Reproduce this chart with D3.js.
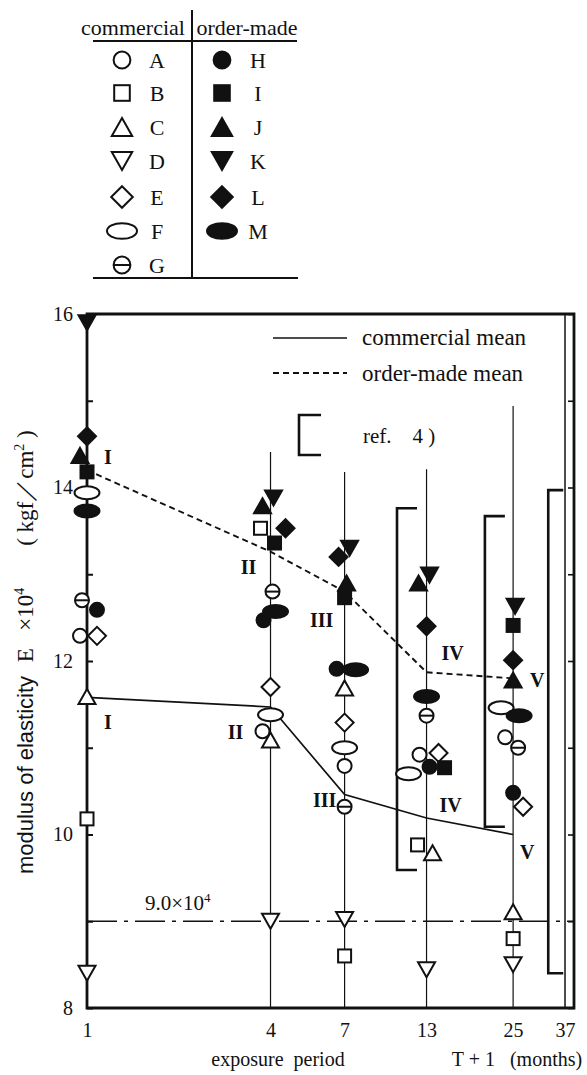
<!DOCTYPE html>
<html>
<head>
<meta charset="utf-8">
<script src="https://cdn.jsdelivr.net/npm/d3@7/dist/d3.min.js"></script>
<style>
  html, body { margin: 0; padding: 0; background: #fff; }
  svg { display: block; }
  text { font-family: "Liberation Serif", "Times New Roman", serif; fill: #111; }
</style>
</head>
<body>
<svg id="chart" width="587" height="1075"></svg>
<script>
// Exposure periods (T + 1, months)
const periods = [1, 4, 7, 13, 25];
const axisPeriods = [1, 4, 7, 13, 25, 37];

// Modulus of elasticity (x10^4 kgf/cm2) per specimen group
// commercial
const seriesA = [12.29, 11.19, 10.79, 10.92, 11.12];
const seriesB = [10.18, 13.53, 8.60, 9.88, 8.80];
const seriesC = [11.59, 11.09, 11.69, 9.79, 9.11];
const seriesD = [8.40, 9.00, 9.02, 8.44, 8.50];
const seriesE = [12.29, 11.70, 11.29, 10.94, 10.32];
const seriesF = [13.94, 11.38, 11.00, 10.70, 11.46];
const seriesG = [12.70, 12.80, 10.32, 11.37, 11.00];
// order-made
const seriesH = [12.59, 12.47, 11.91, 10.78, 10.48];
const seriesI = [14.18, 13.36, 12.73, 10.77, 12.41];
const seriesJ = [14.37, 13.79, 12.90, 12.90, 11.78];
const seriesK = [15.90, 13.88, 13.30, 12.99, 12.63];
const seriesL = [14.59, 13.53, 13.20, 12.40, 12.01];
const seriesM = [13.73, 12.57, 11.90, 11.59, 11.37];

// Group means
const commercialMean = [11.58, 11.47, 10.46, 10.19, 10.00];
const orderMadeMean = [14.20, 13.26, 12.80, 11.87, 11.80];
const meanLabels = ["I", "II", "III", "IV", "V"];

// Ranges from ref. 4)
const refPeriod = [10.4, 20.2, 32.6];
const refLow = [9.59, 10.09, 8.40];
const refHigh = [13.76, 13.67, 13.97];

// Design value
const designValue = 9.0;

// Y ticks
const yMajorTicks = [8, 10, 12, 14, 16];
const yAllTicks = [8, 9, 10, 11, 12, 13, 14, 15, 16];

// ---------- layout ----------
const svg = d3.select("#chart");
const X0 = 87, X1 = 574, Y0 = 314, Y1 = 1008;
const x = d3.scaleLog().domain([1, 39.6]).range([X0, X1]);
const y = d3.scaleLinear().domain([8, 16]).range([Y1, Y0]);

const legendSymbols = [
  { key: "A", shape: "circle", fill: false, data: seriesA },
  { key: "B", shape: "square", fill: false, data: seriesB },
  { key: "C", shape: "triUp", fill: false, data: seriesC },
  { key: "D", shape: "triDown", fill: false, data: seriesD },
  { key: "E", shape: "diamond", fill: false, data: seriesE },
  { key: "F", shape: "ellipse", fill: false, data: seriesF },
  { key: "G", shape: "theta", fill: false, data: seriesG },
  { key: "H", shape: "circle", fill: true, data: seriesH },
  { key: "I", shape: "square", fill: true, data: seriesI },
  { key: "J", shape: "triUp", fill: true, data: seriesJ },
  { key: "K", shape: "triDown", fill: true, data: seriesK },
  { key: "L", shape: "diamond", fill: true, data: seriesL },
  { key: "M", shape: "ellipse", fill: true, data: seriesM }
];

// draws one marker centred at (cx, cy); s scales the symbol
function marker(g, shape, filled, cx, cy, s) {
  const fill = filled ? "#111" : "#fff";
  const sw = 2;
  const gg = g.append("g").attr("transform", `translate(${cx},${cy})`);
  if (shape === "circle") {
    gg.append("circle").attr("r", 7 * s).attr("fill", fill).attr("stroke", "#111").attr("stroke-width", sw);
  } else if (shape === "square") {
    const h = 6.5 * s;
    gg.append("rect").attr("x", -h).attr("y", -h).attr("width", 2 * h).attr("height", 2 * h)
      .attr("fill", fill).attr("stroke", "#111").attr("stroke-width", sw);
  } else if (shape === "triUp" || shape === "triDown") {
    const w = 8.5 * s, h = 7.5 * s, d = shape === "triUp" ? 1 : -1;
    gg.append("path").attr("d", `M0,${-d * h}L${w},${d * h}L${-w},${d * h}Z`)
      .attr("fill", fill).attr("stroke", "#111").attr("stroke-width", sw).attr("stroke-linejoin", "miter");
  } else if (shape === "diamond") {
    const r = 9 * s;
    gg.append("path").attr("d", `M0,${-r}L${r},0L0,${r}L${-r},0Z`)
      .attr("fill", fill).attr("stroke", "#111").attr("stroke-width", sw);
  } else if (shape === "ellipse") {
    gg.append("ellipse").attr("rx", 12.5 * s).attr("ry", 6.5 * s)
      .attr("fill", fill).attr("stroke", "#111").attr("stroke-width", sw);
  } else if (shape === "theta") {
    const r = 7 * s;
    gg.append("circle").attr("r", r).attr("fill", fill).attr("stroke", "#111").attr("stroke-width", sw);
    gg.append("line").attr("x1", -r).attr("x2", r).attr("stroke", "#111").attr("stroke-width", sw);
  }
}

// ---------- symbol key table ----------
const key = svg.append("g");
key.append("text").attr("x", 133).attr("y", 35).attr("text-anchor", "middle")
  .style("font-size", "22px").text("commercial");
key.append("text").attr("x", 247).attr("y", 35).attr("text-anchor", "middle")
  .style("font-size", "22px").text("order-made");
key.append("line").attr("x1", 93).attr("x2", 297).attr("y1", 41).attr("y2", 41)
  .attr("stroke", "#111").attr("stroke-width", 2);
key.append("line").attr("x1", 93).attr("x2", 298).attr("y1", 278).attr("y2", 278)
  .attr("stroke", "#111").attr("stroke-width", 2);
key.append("line").attr("x1", 192).attr("x2", 192).attr("y1", 10).attr("y2", 279)
  .attr("stroke", "#111").attr("stroke-width", 2);

const rowY = [60, 93, 127, 161, 197, 231, 265];
legendSymbols.forEach((d, i) => {
  const col = i < 7 ? 0 : 1;
  const row = col === 0 ? i : i - 7;
  const cy = rowY[row];
  const sx = col === 0 ? 122 : 222;
  const tx = col === 0 ? 157 : 258;
  marker(key, d.shape, d.fill, sx, cy, 1.2);
  key.append("text").attr("x", tx).attr("y", cy + 8).attr("text-anchor", "middle")
    .style("font-size", "22px").text(d.key);
});

// ---------- plot ----------
const plot = svg.append("g");

// design value line (dash-dot)
plot.append("line").attr("x1", X0).attr("x2", X1)
  .attr("y1", y(designValue)).attr("y2", y(designValue))
  .attr("stroke", "#111").attr("stroke-width", 1.3).attr("stroke-dasharray", "30,7,4,7");
plot.append("text").attr("x", 145).attr("y", y(designValue) - 11).style("font-size", "21px")
  .html("9.0×10<tspan dy='-8' font-size='13px'>4</tspan>");

// vertical guides at each exposure period
const guideTop = [14.41, 14.18, 14.21, 14.94];
periods.slice(1).forEach((p, i) => {
  plot.append("line").attr("x1", x(p)).attr("x2", x(p)).attr("y1", y(guideTop[i])).attr("y2", Y1)
    .attr("stroke", "#111").attr("stroke-width", 1.2);
});
plot.append("line").attr("x1", x(37)).attr("x2", x(37)).attr("y1", Y0).attr("y2", Y1)
  .attr("stroke", "#111").attr("stroke-width", 1.5);

// ref. 4) brackets
refPeriod.forEach((p, i) => {
  const bx = x(p);
  const arm = i === 2 ? 15 : 20;
  plot.append("path")
    .attr("d", `M${bx + arm},${y(refHigh[i])}H${bx}V${y(refLow[i])}H${bx + arm}`)
    .attr("fill", "none").attr("stroke", "#111").attr("stroke-width", 2.6);
});

// mean lines
const line = d3.line().x((d, i) => x(periods[i])).y(d => y(d));
plot.append("path").datum(commercialMean).attr("d", line)
  .attr("fill", "none").attr("stroke", "#111").attr("stroke-width", 1.7);
plot.append("path").datum(orderMadeMean).attr("d", line)
  .attr("fill", "none").attr("stroke", "#111").attr("stroke-width", 1.9).attr("stroke-dasharray", "6,4");

// Roman numeral labels beside the mean vertices (pixel offsets)
const solidLabelOff = [[21, 25], [-35, 25], [-20, 5], [24, -13], [14, 17]];
const dashLabelOff = [[21, -13], [-22, 15], [-23, 28], [26, -19], [24, 2]];
meanLabels.forEach((t, i) => {
  plot.append("text").attr("x", x(periods[i]) + solidLabelOff[i][0]).attr("y", y(commercialMean[i]) + solidLabelOff[i][1] + 7)
    .attr("text-anchor", "middle").style("font-size", "20px").style("font-weight", "bold").text(t);
  plot.append("text").attr("x", x(periods[i]) + dashLabelOff[i][0]).attr("y", y(orderMadeMean[i]) + dashLabelOff[i][1] + 7)
    .attr("text-anchor", "middle").style("font-size", "20px").style("font-weight", "bold").text(t);
});

// axes
const left = plot.append("g").attr("transform", `translate(${X0},0)`)
  .call(d3.axisLeft(y).tickValues(yAllTicks).tickSizeInner(-6).tickSizeOuter(0).tickPadding(14)
    .tickFormat(d => yMajorTicks.includes(d) ? d : ""));
left.select(".domain").remove();
left.selectAll("text").style("font-size", "20px").attr("font-family", null);
left.selectAll("line").attr("stroke", "#111").attr("stroke-width", 2);

const right = plot.append("g").attr("transform", `translate(${X1},0)`)
  .call(d3.axisRight(y).tickValues(yAllTicks).tickSizeInner(-6).tickSizeOuter(0).tickFormat(""));
right.select(".domain").remove();
right.selectAll("line").attr("stroke", "#111").attr("stroke-width", 1.6);

const bottom = plot.append("g").attr("transform", `translate(0,${Y1})`)
  .call(d3.axisBottom(x).tickValues(axisPeriods).tickSize(0).tickPadding(15).tickFormat(d3.format("d")));
bottom.select(".domain").remove();
bottom.selectAll("text").style("font-size", "20px").attr("font-family", null);

// frame
plot.append("path").attr("d", `M${X0},${Y1}V${Y0}H${X1}V${Y1}Z`)
  .attr("fill", "none").attr("stroke", "#111").attr("stroke-width", 2.8);

// markers
const nudge = {
  "A0": -7, "E0": 10, "G0": -5, "H0": 10, "J0": -7,
  "K1": 3, "J1": -8, "B1": -10, "L1": 15, "I1": 4, "G1": 2, "M1": 5, "H1": -7, "A1": -8,
  "K2": 5, "L2": -6, "J2": 2, "H2": -8, "M2": 11,
  "K3": 3, "J3": -8, "A3": -7, "E3": 12, "F3": -18, "H3": 3, "I3": 18, "B3": -9, "C3": 6,
  "K4": 2, "F4": -12, "M4": 6, "A4": -8, "G4": 5, "E4": 10
};
const marks = plot.append("g");
legendSymbols.forEach(s => {
  s.data.forEach((v, i) => {
    const dx = nudge[s.key + i] || 0;
    marker(marks, s.shape, s.fill, x(periods[i]) + dx, y(v), 1);
  });
});

// in-plot line legend
plot.append("line").attr("x1", 273).attr("x2", 347).attr("y1", 338).attr("y2", 338)
  .attr("stroke", "#111").attr("stroke-width", 1.7);
plot.append("line").attr("x1", 273).attr("x2", 347).attr("y1", 373).attr("y2", 373)
  .attr("stroke", "#111").attr("stroke-width", 1.9).attr("stroke-dasharray", "6,4");
plot.append("text").attr("x", 362).attr("y", 345).style("font-size", "23px").text("commercial  mean");
plot.append("text").attr("x", 362).attr("y", 381).style("font-size", "23px").text("order-made  mean");
plot.append("path").attr("d", "M321,415H299V455H321")
  .attr("fill", "none").attr("stroke", "#111").attr("stroke-width", 2.6);
plot.append("text").attr("x", 363).attr("y", 443).style("font-size", "21px").attr("xml:space", "preserve").text("ref.    4 )");

// axis titles
svg.append("text").attr("x", 278).attr("y", 1066).attr("text-anchor", "middle")
  .style("font-size", "20px").attr("xml:space", "preserve").text("exposure  period");
svg.append("text").attr("x", 517).attr("y", 1066).attr("text-anchor", "middle")
  .style("font-size", "20px").attr("xml:space", "preserve").text("T + 1   (months)");

// vertical axis title, set in three pieces along the left margin
function vtext(cy) {
  return svg.append("text").attr("transform", `translate(33,${cy}) rotate(-90)`)
    .attr("text-anchor", "middle").attr("xml:space", "preserve");
}
vtext(775).style("font-size", "22px")
  .style("font-family", "'Liberation Sans', 'DejaVu Sans', sans-serif").text("modulus of elasticity");
const eLab = vtext(625).style("font-size", "23px");
eLab.append("tspan").text("E   ×10");
eLab.append("tspan").attr("dy", -9).style("font-size", "14px").text("4");
const uLab = vtext(488).style("font-size", "23px");
uLab.append("tspan").text("( kgf／cm");
uLab.append("tspan").attr("dy", -9).style("font-size", "14px").text("2");
uLab.append("tspan").attr("dy", 9).text(" )");
</script>
</body>
</html>
